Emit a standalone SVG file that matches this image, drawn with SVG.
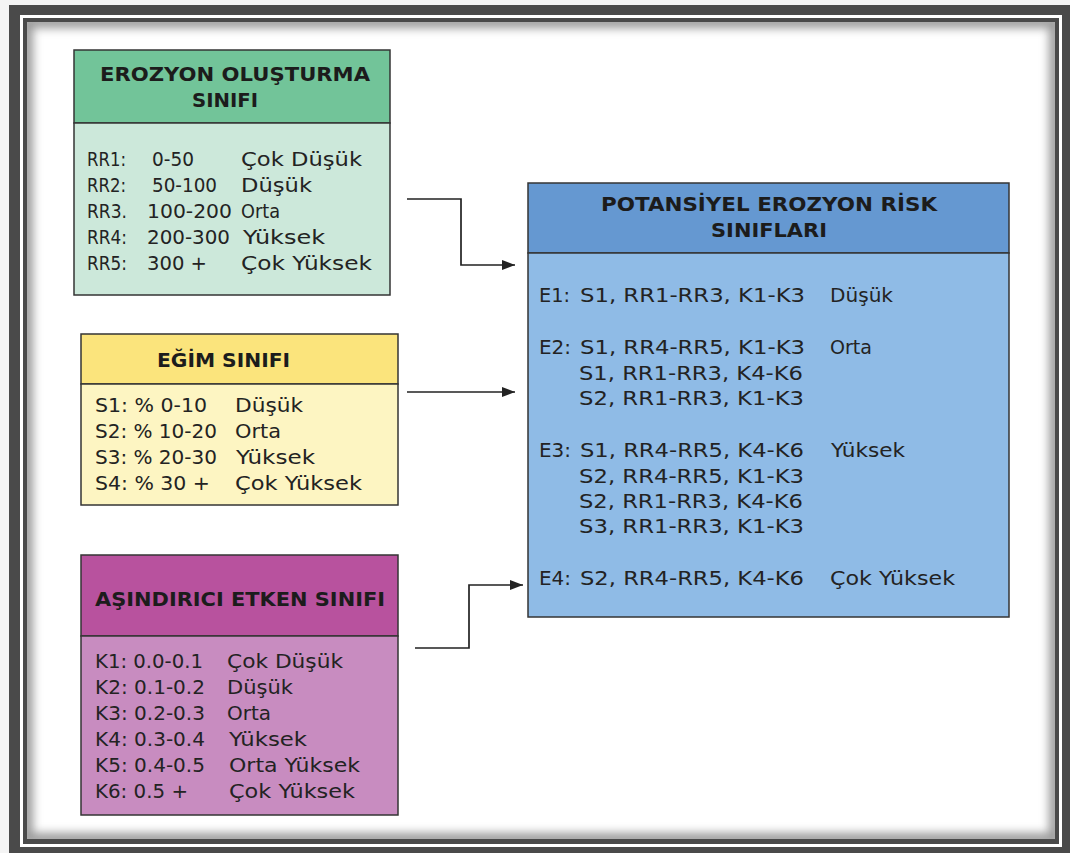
<svg xmlns="http://www.w3.org/2000/svg" width="1070" height="853" viewBox="0 0 1070 853">
<style>
.hd{font-family:"DejaVu Sans","Liberation Sans",sans-serif;font-weight:bold;font-size:20px;fill:#1c1c1c}
.bd{font-family:"DejaVu Sans","Liberation Sans",sans-serif;font-size:19px;fill:#232323}
.bb{font-family:"DejaVu Sans","Liberation Sans",sans-serif;font-size:20px;fill:#232323}
.box{stroke:#353535;stroke-width:1.5}
.conn{fill:none;stroke:#222;stroke-width:1.7}
</style>
<defs>
<marker id="arr" markerUnits="userSpaceOnUse" markerWidth="14" markerHeight="11" refX="13" refY="5" orient="auto">
<path d="M0,0 L13,5 L0,10 z" fill="#222"/>
</marker>
<clipPath id="inner"><rect x="27" y="22" width="1028" height="817"/></clipPath>
<filter id="blur" x="-5%" y="-5%" width="110%" height="110%"><feGaussianBlur stdDeviation="5"/></filter>
</defs>
<rect x="0" y="0" width="1070" height="853" fill="#f4f4f4"/>
<g id="frame">
<rect x="9" y="5" width="1061" height="848" fill="#4a4a4a"/>
<rect x="20" y="15" width="1042" height="832" fill="#ffffff"/>
<rect x="23" y="18" width="1036" height="826" fill="#4a4a4a"/>
<rect x="27" y="22" width="1028" height="817" fill="#ffffff"/>
<g clip-path="url(#inner)"><rect x="27" y="22" width="1028" height="817" fill="none" stroke="#9a9a9a" stroke-width="12" filter="url(#blur)"/></g>
</g>
<g id="connectors">
<path class="conn" d="M407,199 H461 V265 H515" marker-end="url(#arr)"/>
<path class="conn" d="M407,392 H515" marker-end="url(#arr)"/>
<path class="conn" d="M415,648 H469 V585 H523" marker-end="url(#arr)"/>
</g>
<g id="erozyon">
<rect class="box" x="74" y="50" width="316" height="73" fill="#72c499"/>
<rect class="box" x="74" y="123" width="316" height="172" fill="#cce8da"/>
<text class="hd" x="235" y="81" text-anchor="middle" textLength="270" lengthAdjust="spacingAndGlyphs">EROZYON  OLUŞTURMA</text>
<text class="hd" x="225" y="107" text-anchor="middle" textLength="66" lengthAdjust="spacingAndGlyphs">SINIFI</text>
<text class="bd" x="87" y="166" textLength="39" lengthAdjust="spacingAndGlyphs">RR1:</text>
<text class="bd" x="152" y="166" textLength="42" lengthAdjust="spacingAndGlyphs">0-50</text>
<text class="bd" x="241" y="166" textLength="121" lengthAdjust="spacingAndGlyphs">Çok Düşük</text>
<text class="bd" x="87" y="192" textLength="39" lengthAdjust="spacingAndGlyphs">RR2:</text>
<text class="bd" x="152" y="192" textLength="65" lengthAdjust="spacingAndGlyphs">50-100</text>
<text class="bd" x="241" y="192" textLength="71" lengthAdjust="spacingAndGlyphs">Düşük</text>
<text class="bd" x="87" y="218" textLength="40" lengthAdjust="spacingAndGlyphs">RR3.</text>
<text class="bd" x="147" y="218" textLength="85" lengthAdjust="spacingAndGlyphs">100-200</text>
<text class="bd" x="241" y="218" textLength="39" lengthAdjust="spacingAndGlyphs">Orta</text>
<text class="bd" x="87" y="244" textLength="40" lengthAdjust="spacingAndGlyphs">RR4:</text>
<text class="bd" x="147" y="244" textLength="83" lengthAdjust="spacingAndGlyphs">200-300</text>
<text class="bd" x="243" y="244" textLength="82" lengthAdjust="spacingAndGlyphs">Yüksek</text>
<text class="bd" x="87" y="270" textLength="40" lengthAdjust="spacingAndGlyphs">RR5:</text>
<text class="bd" x="147" y="270" textLength="60" lengthAdjust="spacingAndGlyphs">300 +</text>
<text class="bd" x="241" y="270" textLength="131" lengthAdjust="spacingAndGlyphs">Çok Yüksek</text>
</g>
<g id="egim">
<rect class="box" x="81" y="334" width="317" height="50" fill="#fbe47c"/>
<rect class="box" x="81" y="384" width="317" height="121" fill="#fdf5c2"/>
<text class="hd" x="157" y="367" textLength="133" lengthAdjust="spacingAndGlyphs">EĞİM SINIFI</text>
<text class="bd" x="95" y="412" textLength="112" lengthAdjust="spacingAndGlyphs">S1: % 0-10</text>
<text class="bd" x="235" y="412" textLength="68" lengthAdjust="spacingAndGlyphs">Düşük</text>
<text class="bd" x="95" y="438" textLength="122" lengthAdjust="spacingAndGlyphs">S2: % 10-20</text>
<text class="bd" x="235" y="438" textLength="46" lengthAdjust="spacingAndGlyphs">Orta</text>
<text class="bd" x="95" y="464" textLength="122" lengthAdjust="spacingAndGlyphs">S3: % 20-30</text>
<text class="bd" x="236" y="464" textLength="79" lengthAdjust="spacingAndGlyphs">Yüksek</text>
<text class="bd" x="95" y="490" textLength="115" lengthAdjust="spacingAndGlyphs">S4: % 30 +</text>
<text class="bd" x="235" y="490" textLength="127" lengthAdjust="spacingAndGlyphs">Çok Yüksek</text>
</g>
<g id="asindirici">
<rect class="box" x="81" y="555" width="317" height="81" fill="#b8529e"/>
<rect class="box" x="81" y="636" width="317" height="179" fill="#c88cc0"/>
<text class="hd" x="95" y="606" textLength="290" lengthAdjust="spacingAndGlyphs">AŞINDIRICI ETKEN SINIFI</text>
<text class="bd" x="95" y="668" textLength="108" lengthAdjust="spacingAndGlyphs">K1: 0.0-0.1</text>
<text class="bd" x="227" y="668" textLength="116" lengthAdjust="spacingAndGlyphs">Çok Düşük</text>
<text class="bd" x="95" y="694" textLength="110" lengthAdjust="spacingAndGlyphs">K2: 0.1-0.2</text>
<text class="bd" x="227" y="694" textLength="66" lengthAdjust="spacingAndGlyphs">Düşük</text>
<text class="bd" x="95" y="720" textLength="110" lengthAdjust="spacingAndGlyphs">K3: 0.2-0.3</text>
<text class="bd" x="227" y="720" textLength="44" lengthAdjust="spacingAndGlyphs">Orta</text>
<text class="bd" x="95" y="746" textLength="110" lengthAdjust="spacingAndGlyphs">K4: 0.3-0.4</text>
<text class="bd" x="229" y="746" textLength="78" lengthAdjust="spacingAndGlyphs">Yüksek</text>
<text class="bd" x="95" y="772" textLength="110" lengthAdjust="spacingAndGlyphs">K5: 0.4-0.5</text>
<text class="bd" x="229" y="772" textLength="131" lengthAdjust="spacingAndGlyphs">Orta Yüksek</text>
<text class="bd" x="95" y="798" textLength="93" lengthAdjust="spacingAndGlyphs">K6: 0.5 +</text>
<text class="bd" x="229" y="798" textLength="126" lengthAdjust="spacingAndGlyphs">Çok Yüksek</text>
</g>
<g id="risk">
<rect class="box" x="528" y="183" width="481" height="70" fill="#6598d1"/>
<rect class="box" x="528" y="253" width="481" height="364" fill="#8fbbe6"/>
<text class="hd" x="769" y="211" text-anchor="middle" textLength="336" lengthAdjust="spacingAndGlyphs">POTANSİYEL  EROZYON  RİSK</text>
<text class="hd" x="769" y="237" text-anchor="middle" textLength="116" lengthAdjust="spacingAndGlyphs">SINIFLARI</text>
<text class="bb" x="539" y="302" textLength="31" lengthAdjust="spacingAndGlyphs">E1:</text>
<text class="bb" x="580" y="302" textLength="225" lengthAdjust="spacingAndGlyphs">S1, RR1-RR3, K1-K3</text>
<text class="bb" x="830" y="302" textLength="63" lengthAdjust="spacingAndGlyphs">Düşük</text>
<text class="bb" x="539" y="354" textLength="32" lengthAdjust="spacingAndGlyphs">E2:</text>
<text class="bb" x="580" y="354" textLength="225" lengthAdjust="spacingAndGlyphs">S1, RR4-RR5, K1-K3</text>
<text class="bb" x="830" y="354" textLength="42" lengthAdjust="spacingAndGlyphs">Orta</text>
<text class="bb" x="579" y="380" textLength="224" lengthAdjust="spacingAndGlyphs">S1, RR1-RR3, K4-K6</text>
<text class="bb" x="579" y="405" textLength="225" lengthAdjust="spacingAndGlyphs">S2, RR1-RR3, K1-K3</text>
<text class="bb" x="539" y="457" textLength="32" lengthAdjust="spacingAndGlyphs">E3:</text>
<text class="bb" x="580" y="457" textLength="224" lengthAdjust="spacingAndGlyphs">S1, RR4-RR5, K4-K6</text>
<text class="bb" x="831" y="457" textLength="74" lengthAdjust="spacingAndGlyphs">Yüksek</text>
<text class="bb" x="579" y="483" textLength="225" lengthAdjust="spacingAndGlyphs">S2, RR4-RR5, K1-K3</text>
<text class="bb" x="579" y="508" textLength="224" lengthAdjust="spacingAndGlyphs">S2, RR1-RR3, K4-K6</text>
<text class="bb" x="579" y="533" textLength="225" lengthAdjust="spacingAndGlyphs">S3, RR1-RR3, K1-K3</text>
<text class="bb" x="539" y="585" textLength="32" lengthAdjust="spacingAndGlyphs">E4:</text>
<text class="bb" x="580" y="585" textLength="224" lengthAdjust="spacingAndGlyphs">S2, RR4-RR5, K4-K6</text>
<text class="bb" x="830" y="585" textLength="125" lengthAdjust="spacingAndGlyphs">Çok Yüksek</text>
</g>
</svg>
